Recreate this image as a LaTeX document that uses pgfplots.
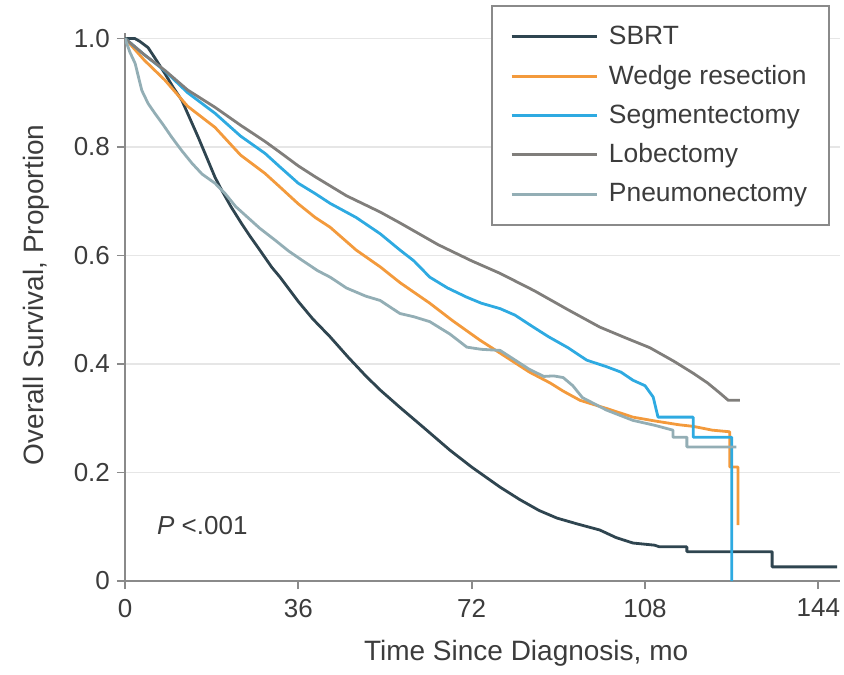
\documentclass[border=0pt]{standalone}
\usepackage{fontspec}
\setmainfont{Liberation Sans}
\usepackage{pgfplots}
\pgfplotsset{compat=1.18}
\definecolor{sbrt}{HTML}{2F4550}
\definecolor{wedge}{HTML}{F39A3C}
\definecolor{segm}{HTML}{2EAAE1}
\definecolor{lobe}{HTML}{807E7B}
\definecolor{pneu}{HTML}{93AEB5}
\definecolor{axisgray}{HTML}{8A8A8A}
\definecolor{gridgray}{HTML}{E6E6E6}
\definecolor{txt}{HTML}{3C3C3C}
\newcommand{\ff}{\fontsize{13}{15.6}\selectfont}
\newcommand{\fl}{\fontsize{13.2}{15.8}\selectfont}
\newcommand{\fb}{\fontsize{14}{16.8}\selectfont}
\begin{document}
\begin{tikzpicture}
\begin{axis}[
  scale only axis,
  width=357.5pt, height=274pt,
  xmin=0, xmax=148.5, ymin=0, ymax=1.01,
  axis lines=left,
  axis line style={-, axisgray, line width=1pt},
  xtick={0,36,72,108,144},
  ytick={0,0.2,0.4,0.6,0.8,1.0},
  yticklabels={0,0.2,0.4,0.6,0.8,1.0},
  xticklabels={0,36,72,108,144},
  tick align=outside,
  major tick length=4pt,
  tick style={axisgray, line width=0.9pt},
  ymajorgrids,
  major grid style={gridgray, line width=0.9pt},
  tick label style={font=\ff, text=txt},
  xticklabel style={yshift=-1.5pt},
  label style={font=\fb, text=txt, inner sep=0pt},
  xlabel={Time Since Diagnosis, mo},
  ylabel={Overall Survival, Proportion},
  xlabel style={at={(axis description cs:0.561,0)}, anchor=base, yshift=-39.5pt},
  ylabel style={at={(axis description cs:-0.105,0.522)}, anchor=south},
  legend style={at={(rel axis cs:0.986,1.051)}, anchor=north east, draw=axisgray, line width=0.9pt, font=\fl, text=txt, inner xsep=9pt, inner ysep=8pt, row sep=4.8pt, cells={anchor=west}},
  legend image code/.code={\draw[#1, line width=1.5pt] (0pt,0pt) -- (42.5pt,0pt); \path (46pt,0pt);},
  every axis plot/.append style={line width=1.4pt, line join=round},
]
\addplot[sbrt] coordinates {(0,1) (2,1) (3,0.995) (4.8,0.983) (6.5,0.96) (8.3,0.935) (10,0.91) (11.8,0.886) (13.5,0.852) (15.2,0.818) (17,0.78) (18.7,0.744) (20.1,0.72) (22,0.69) (24.2,0.659) (26,0.635) (27.6,0.615) (30.5,0.578) (32.2,0.56) (36,0.515) (39,0.483) (42.6,0.45) (46.3,0.413) (50,0.378) (53,0.352) (57.1,0.32) (62,0.283) (67.5,0.241) (72,0.21) (77.9,0.173) (82,0.15) (86,0.13) (89.7,0.116) (94,0.105) (98.6,0.094) (102,0.08) (105.5,0.07) (110,0.066) (111,0.063) (116.7,0.063) (116.7,0.054) (134.4,0.054) (134.4,0.026) (147.9,0.026)};
\addlegendentry{SBRT}
\addplot[wedge] coordinates {(0,1) (4,0.96) (8.3,0.923) (13,0.875) (18.7,0.836) (24,0.785) (29.1,0.751) (32.2,0.726) (36,0.695) (39.5,0.67) (42.6,0.652) (48,0.61) (53,0.579) (57.1,0.55) (63.3,0.512) (68,0.48) (73.7,0.444) (77.9,0.42) (84,0.385) (88.3,0.365) (91,0.35) (94.5,0.333) (100,0.318) (105.5,0.302) (110,0.295) (115,0.288) (118,0.285) (122,0.278) (125.6,0.275) (125.6,0.21) (127.3,0.21) (127.3,0.103)};
\addlegendentry{Wedge resection}
\addplot[segm] coordinates {(0,1) (4,0.97) (8.3,0.94) (13,0.9) (18.7,0.862) (24,0.82) (29.1,0.788) (32.2,0.763) (36,0.733) (39.5,0.714) (42.6,0.696) (48,0.67) (53,0.64) (57.1,0.61) (60,0.59) (63.3,0.56) (67,0.54) (71,0.523) (74,0.512) (77.9,0.502) (81,0.49) (84.8,0.468) (88,0.45) (92,0.43) (95.9,0.407) (100,0.395) (103,0.385) (105.5,0.37) (108,0.36) (109.7,0.339) (110.7,0.302) (118,0.302) (118,0.265) (126,0.265) (126,0)};
\addlegendentry{Segmentectomy}
\addplot[lobe] coordinates {(0,1) (4,0.97) (8.3,0.941) (13,0.905) (18.7,0.873) (24,0.84) (29.1,0.81) (32.2,0.79) (36,0.765) (39.5,0.745) (46,0.71) (53,0.68) (57.1,0.66) (65,0.62) (72,0.59) (77.9,0.567) (85,0.535) (92,0.5) (98.6,0.468) (104,0.448) (109,0.43) (114,0.405) (118,0.383) (121,0.365) (123.6,0.346) (125.3,0.333) (127.7,0.333)};
\addlegendentry{Lobectomy}
\addplot[pneu] coordinates {(0,1) (1,0.975) (2.1,0.954) (3.5,0.904) (4.8,0.88) (6.2,0.862) (8,0.84) (9.7,0.818) (11.8,0.793) (13.9,0.77) (16,0.75) (18.7,0.733) (20.8,0.714) (23,0.69) (25.5,0.67) (28,0.65) (31.2,0.628) (34,0.608) (36.8,0.591) (40,0.572) (42.6,0.56) (46,0.54) (50,0.525) (53,0.517) (57.1,0.493) (60,0.487) (63.3,0.478) (67.5,0.455) (71,0.431) (74,0.427) (77.9,0.425) (80,0.413) (84,0.39) (87,0.377) (89,0.378) (91,0.375) (93,0.36) (95,0.338) (100,0.315) (105.5,0.296) (110,0.287) (113.8,0.278) (113.8,0.265) (116.7,0.265) (116.7,0.247) (127,0.247)};
\addlegendentry{Pneumonectomy}
\node[anchor=base west, inner sep=0pt, font=\ff, text=txt] at (axis cs:6.6,0.085) {\textit{P} <.001};
\end{axis}
\pgfresetboundingbox
\path[use as bounding box] (-62.5pt,-46.5pt) rectangle (359.5pt,290.5pt);
\end{tikzpicture}
\end{document}
